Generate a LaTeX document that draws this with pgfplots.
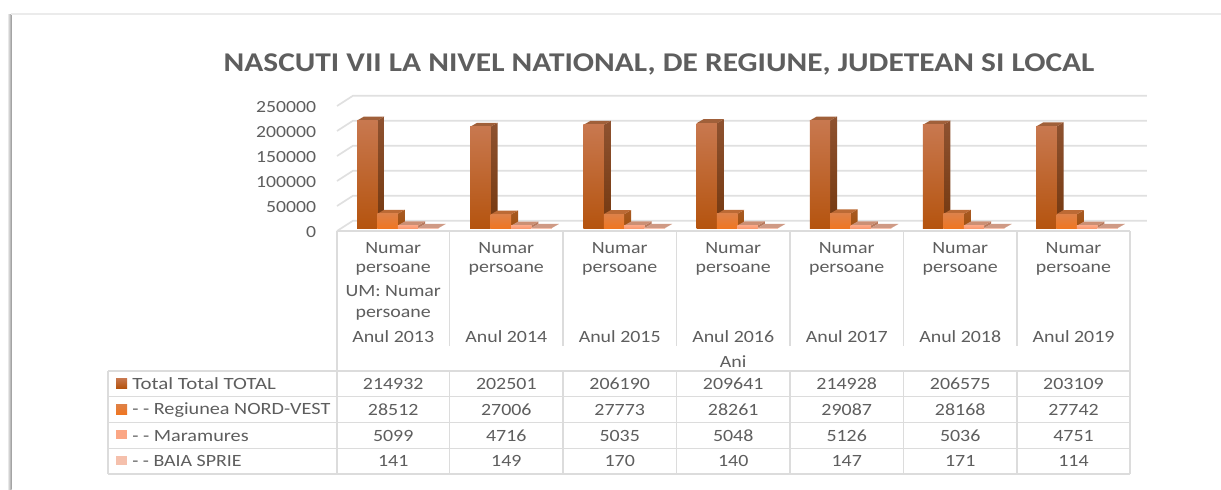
\documentclass[border=0pt]{standalone}
\usepackage{fontspec}
\setmainfont[FakeStretch=1.16]{Carlito}
\usepackage{pgfplots}
\pgfplotsset{compat=1.18}
\definecolor{txt}{HTML}{5E5E5E}
\definecolor{gridc}{HTML}{E0E0E0}
\definecolor{tabc}{HTML}{DCDCDC}
\definecolor{aF}{HTML}{C8784F}\definecolor{aB}{HTML}{B5540F}\definecolor{aS}{HTML}{8E5230}\definecolor{aD}{HTML}{74380F}\definecolor{aT}{HTML}{A0603A}
\definecolor{bF}{HTML}{DE8148}\definecolor{bB}{HTML}{EF7622}\definecolor{bS}{HTML}{A85A22}\definecolor{bD}{HTML}{A05010}\definecolor{bT}{HTML}{BC6A35}
\definecolor{cF}{HTML}{FBA684}\definecolor{cB}{HTML}{F99A70}\definecolor{cS}{HTML}{B87A5E}\definecolor{cT}{HTML}{CB8F74}
\definecolor{dF}{HTML}{F5C0AC}\definecolor{dS}{HTML}{CFA08C}\definecolor{dT}{HTML}{CF9A85}
% a 3D column: #1 category, #2 series, #3 value, #4 #5 front top/bottom, #6 #7 side top/bottom, #8 top
\newcommand{\tdbar}[8]{%
 \pgfmathsetmacro{\xa}{357+113.2*#1+20.4*#2}%
 \pgfmathsetmacro{\xb}{\xa+20.4}%
 \pgfmathsetmacro{\xc}{\xb+7}%
 \pgfmathsetmacro{\xd}{\xa+7}%
 \edef\vt{\the\numexpr#3+8000\relax}%
 \addplot[forget plot,draw=none,no markers,top color=#6,bottom color=#7] coordinates {(\xb,#3) (\xc,\vt) (\xc,8000) (\xb,0)};
 \addplot[forget plot,draw=none,no markers,fill=#8] coordinates {(\xa,#3) (\xb,#3) (\xc,\vt) (\xd,\vt)};
 \addplot[forget plot,draw=none,no markers,top color=#4,bottom color=#5] coordinates {(\xa,0) (\xb,0) (\xb,#3) (\xa,#3)};
}
\newcommand{\barA}[2]{\tdbar{#1}{0}{#2}{aF}{aB}{aS}{aD}{aT}}
\newcommand{\barB}[2]{\tdbar{#1}{1}{#2}{bF}{bB}{bS}{bD}{bT}}
\newcommand{\barC}[2]{\tdbar{#1}{2}{#2}{cF}{cB}{cS}{cS}{cT}}
\newcommand{\barD}[2]{\tdbar{#1}{3}{#2}{dF}{dF}{dS}{dS}{dT}}
\newcommand{\gridl}[2]{\addplot[forget plot,no markers,gridc,line width=1pt] coordinates {(337,#1) (353,#2) (1147,#2)};}
\begin{document}
\begin{tikzpicture}[x=0.6pt,y=-0.6pt]
\useasboundingbox (0,0) rectangle (1221,489);
\fill[white] (0,0) rectangle (1221,489);
% frame of the screenshot
\fill[left color=white,right color=black!40] (7,14) rectangle (11.5,489);
\fill[black!8] (11,13) rectangle (1221,15);
\coordinate (P) at (337,228);
\begin{axis}[
  at={(P)},anchor=south west,scale only axis,
  width=486pt,height=75pt,
  xmin=337,xmax=1147,ymin=0,ymax=250000,
  clip=false,
  axis line style={draw=none},
  tick style={draw=none},
  xtick=\empty,
  ytick={0,50000,100000,150000,200000,250000},
  yticklabels={0,50000,100000,150000,200000,250000},
  scaled y ticks=false,
  yticklabel style={font=\fontsize{10.2}{12}\selectfont,text=txt,anchor=east,xshift=-9pt,yshift=-2.2pt},
]
\gridl{-6000}{14600}
\gridl{44000}{64600}
\gridl{94000}{114600}
\gridl{144000}{164600}
\gridl{194000}{214600}
\gridl{244000}{264600}
\barA{0}{214932}\barB{0}{28512}\barC{0}{5099}\barD{0}{141}
\barA{1}{202501}\barB{1}{27006}\barC{1}{4716}\barD{1}{149}
\barA{2}{206190}\barB{2}{27773}\barC{2}{5035}\barD{2}{170}
\barA{3}{209641}\barB{3}{28261}\barC{3}{5048}\barD{3}{140}
\barA{4}{214928}\barB{4}{29087}\barC{4}{5126}\barD{4}{147}
\barA{5}{206575}\barB{5}{28168}\barC{5}{5036}\barD{5}{171}
\barA{6}{203109}\barB{6}{27742}\barC{6}{4751}\barD{6}{114}
\end{axis}
% title
\node[font=\fontsize{16.25}{18}\bfseries\selectfont,text=txt] at (659,64) {NASCUTI VII LA NIVEL NATIONAL, DE REGIUNE, JUDETEAN SI LOCAL};
% table lines
\draw[tabc,line width=0.75pt] (337,231) -- (1130,231);
\foreach \x in {449.5,563,676.5,790,903.5,1017}{\draw[tabc,line width=0.75pt] (\x,231) -- (\x,346);\draw[tabc,line width=0.75pt] (\x,371) -- (\x,474);}
\draw[tabc,line width=0.75pt] (337,231) -- (337,474);
\draw[tabc,line width=0.75pt] (1130,231) -- (1130,474);
\foreach \y in {371,396.7,422.3,448.3,474}{\draw[tabc,line width=0.75pt] (108,\y) -- (1130,\y);}
\draw[tabc,line width=0.75pt] (108,371) -- (108,474);
% table text
\tikzset{tt/.style={font=\fontsize{10.3}{12}\selectfont,text=txt,inner sep=0pt}}
\foreach \i/\cx in {0/393.2,1/506.3,2/619.7,3/733.2,4/846.7,5/960.2,6/1073.5}{
 \node[tt] at (\cx,248) {Numar};
 \node[tt] at (\cx,270) {persoane};
}
\node[tt] at (393.2,291) {UM: Numar};
\node[tt] at (393.2,315) {persoane};
\foreach \y/\cx in {2013/393.2,2014/506.3,2015/619.7,2016/733.2,2017/846.7,2018/960.2,2019/1073.5}{\node[tt] at (\cx,337) {Anul \y};}
\node[tt] at (733.2,362) {Ani};
% legend keys
\shade[top color=aF,bottom color=aB] (116,378) rectangle (127,388);
\shade[top color=bF,bottom color=bB] (116,404) rectangle (127,414);
\fill[cF] (116,430) rectangle (127,439);
\fill[dF] (116,456) rectangle (127,465);
\node[tt,anchor=west,xscale=1.05] at (132,384) {Total Total TOTAL};
\node[tt,anchor=west,xscale=1.015] at (132,410) {- - Regiunea NORD-VEST};
\node[tt,anchor=west,xscale=1.015] at (132,436) {- - Maramures};
\node[tt,anchor=west,xscale=1] at (132,461) {- - BAIA SPRIE};
\foreach \cx/\a/\b/\c/\d in {393.2/214932/28512/5099/141,506.3/202501/27006/4716/149,619.7/206190/27773/5035/170,733.2/209641/28261/5048/140,846.7/214928/29087/5126/147,960.2/206575/28168/5036/171,1073.5/203109/27742/4751/114}{
 \node[tt] at (\cx,384) {\a};
 \node[tt] at (\cx,410) {\b};
 \node[tt] at (\cx,436) {\c};
 \node[tt] at (\cx,461) {\d};
}
\end{tikzpicture}
\end{document}
